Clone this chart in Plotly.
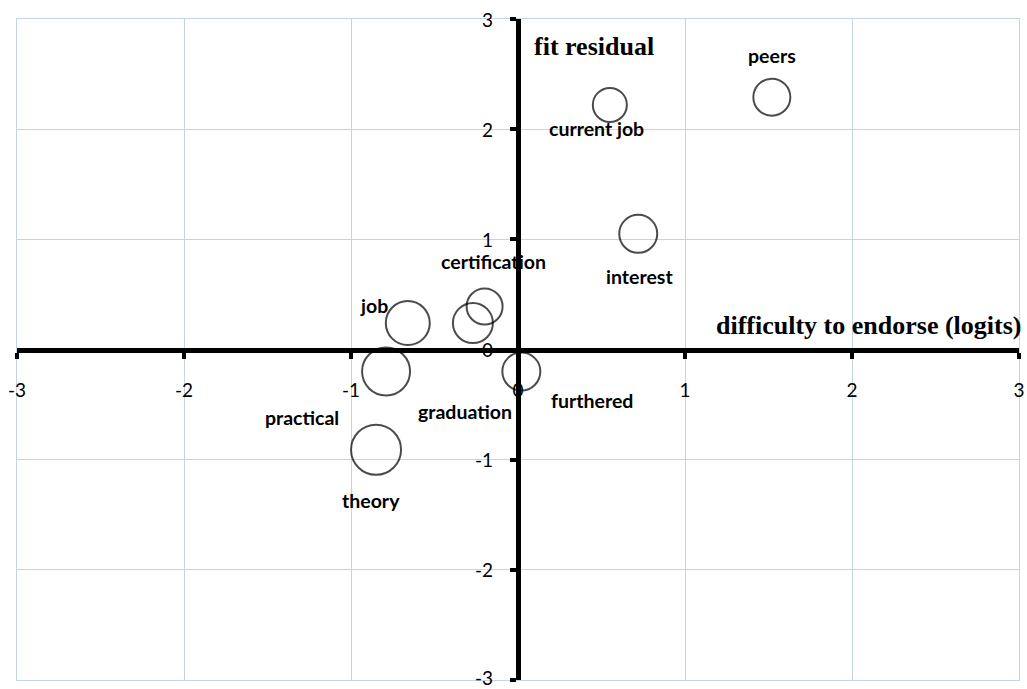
import plotly.graph_objects as go

# ---- data ----
items = ["peers", "current job", "interest", "certification", "graduation",
         "job", "practical", "furthered", "theory"]
difficulty = [1.52, 0.55, 0.72, -0.20, -0.27, -0.66, -0.79, 0.02, -0.85]
fit_residual = [2.29, 2.22, 1.05, 0.39, 0.24, 0.24, -0.20, -0.20, -0.91]
bubble_size = [37, 34, 38, 36, 40, 44, 48, 38, 50]
tick_vals = [-3, -2, -1, 0, 1, 2, 3]
tick_text = ["-3", "-2", "-1", "0", "1", "2", "3"]

# label offsets in pixels (styling)
label_shift = {
    "peers": (0, 42), "current job": (-13, -24), "interest": (1, -43),
    "certification": (9, 45), "graduation": (-8, -88), "job": (-34, 18),
    "practical": (-84, -46), "furthered": (71, -29), "theory": (-5, -51),
}

tick_font = dict(family="Lato, Carlito, Calibri, sans-serif", size=19, color="black")
label_font = dict(family="Lato, Carlito, Calibri, sans-serif", size=19.5, color="black")
title_font = dict(family="Liberation Serif, Times New Roman, serif", size=26, color="black")
grid_color = "#c5d4ea"

fig = go.Figure()
fig.add_trace(go.Scatter(
    x=difficulty, y=fit_residual, mode="markers",
    marker=dict(size=bubble_size, sizemode="diameter", color="rgba(0,0,0,0)",
                line=dict(color="black", width=2)),
    hoverinfo="text", text=items, showlegend=False,
))
# invisible carrier trace so the zero-crossing axes are drawn
fig.add_trace(go.Scatter(
    x=difficulty, y=fit_residual, mode="markers", xaxis="x2", yaxis="y2",
    marker=dict(size=1, opacity=0), hoverinfo="skip", showlegend=False,
))

annotations = []
for name, xv, yv in zip(items, difficulty, fit_residual):
    dx, dy = label_shift[name]
    annotations.append(dict(x=xv, y=yv, xref="x", yref="y", text="<b>%s</b>" % name,
                            showarrow=False, xshift=dx, yshift=dy, font=label_font))

# y tick labels beside the zero-crossing vertical axis
for v, t in zip(tick_vals, tick_text):
    annotations.append(dict(x=0, y=v, xref="x", yref="y", text=t, showarrow=False,
                            xanchor="right", yanchor="middle", xshift=-23,
                            yshift=3 if v == tick_vals[0] else 0, font=tick_font))

annotations.append(dict(x=0.514, y=0.958, xref="paper", yref="paper",
                        text="<b>fit residual</b>", showarrow=False,
                        xanchor="left", yanchor="middle", font=title_font))
annotations.append(dict(x=1.004, y=0.537, xref="paper", yref="paper",
                        text="<b>difficulty to endorse (logits)</b>", showarrow=False,
                        xanchor="right", yanchor="middle", font=title_font))

fig.update_layout(
    width=1027, height=689,
    margin=dict(l=17, r=8, t=19, b=9, autoexpand=False),
    paper_bgcolor="white", plot_bgcolor="white",
    xaxis=dict(range=[-3, 3], tickvals=tick_vals, showticklabels=False,
               showgrid=True, gridcolor=grid_color, gridwidth=1, zeroline=False,
               showline=True, linecolor=grid_color, linewidth=1, mirror=True,
               fixedrange=True),
    yaxis=dict(range=[-3, 3], tickvals=tick_vals, showticklabels=False,
               showgrid=True, gridcolor=grid_color, gridwidth=1, zeroline=False,
               showline=True, linecolor=grid_color, linewidth=1, mirror=True,
               fixedrange=True),
    xaxis2=dict(overlaying="x", anchor="free", position=0.5, side="bottom",
                range=[-3, 3], tickvals=tick_vals, ticktext=tick_text,
                showgrid=False, zeroline=False, showline=True, linecolor="black",
                linewidth=5, ticks="outside", ticklen=6, tickwidth=4, tickcolor="black",
                tickfont=tick_font, ticklabelstandoff=16, ticklabeloverflow="allow",
                fixedrange=True),
    yaxis2=dict(overlaying="y", anchor="free", position=0.5, side="left",
                range=[-3, 3], tickvals=tick_vals, showticklabels=False,
                showgrid=False, zeroline=False, showline=True, linecolor="black",
                linewidth=5, ticks="outside", ticklen=6, tickwidth=4, tickcolor="black",
                fixedrange=True),
    annotations=annotations,
)

fig.write_html("out.html", config={"displayModeBar": False},
               post_script="document.body.style.margin='0';")
